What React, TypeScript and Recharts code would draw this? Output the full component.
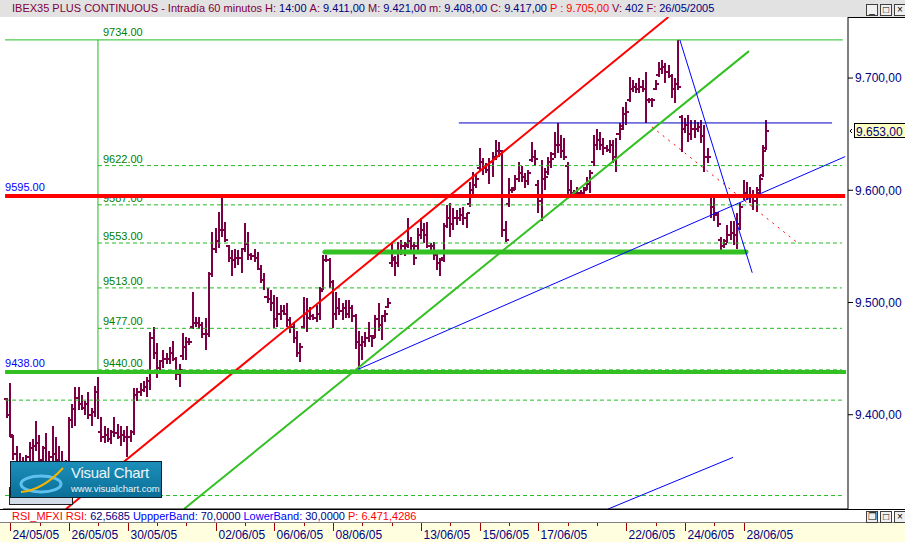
import React from "react";
import { Bar, ComposedChart, ReferenceLine, XAxis, YAxis } from "recharts";

const FONT = '"Liberation Sans", Arial, sans-serif';
const BAR_COLOR = "#7c0044";

// hourly bars, first one is the last bar of 23/05, then 9 bars per session
const opens = [
  9414,
  9400, 9380, 9365, 9356, 9352, 9355, 9362, 9370, 9372,
  9375, 9360, 9370, 9358, 9362, 9365, 9360, 9355, 9352,
  9356, 9395, 9405, 9415, 9410, 9406, 9410, 9400, 9402,
  9420, 9385, 9380, 9382, 9378, 9385, 9384, 9380, 9382,
  9380, 9380, 9385, 9418, 9420, 9422, 9425, 9430, 9468,
  9455, 9442, 9448, 9450, 9450, 9455, 9450, 9436, 9452,
  9460, 9465, 9478, 9482, 9482, 9480, 9472, 9472, 9525,
  9548, 9555, 9565, 9565, 9550, 9540, 9538, 9540, 9540,
  9548, 9552, 9542, 9541, 9540, 9530, 9520, 9505, 9503,
  9500, 9485, 9490, 9492, 9490, 9484, 9478, 9468, 9455,
  9478, 9490, 9486, 9488, 9486, 9490, 9512, 9538, 9538,
  9518, 9490, 9495, 9492, 9495, 9490, 9495, 9488, 9465,
  9462, 9465, 9468, 9470, 9470, 9485, 9480, 9488, 9496,
  9535, 9538, 9535, 9545, 9550, 9552, 9555, 9550, 9550,
  9560, 9565, 9560, 9550, 9550, 9542, 9535, 9540, 9568,
  9575, 9570, 9575, 9575, 9578, 9575, 9588, 9600, 9605,
  9620, 9625, 9620, 9618, 9625, 9630, 9635, 9635, 9565,
  9588, 9600, 9602, 9610, 9615, 9612, 9608, 9627, 9630,
  9605, 9590, 9610, 9616, 9625, 9632, 9640, 9640, 9635,
  9622, 9600, 9598, 9597, 9598, 9598, 9602, 9606, 9625,
  9640, 9645, 9640, 9638, 9636, 9640, 9630, 9650, 9657,
  9668, 9680, 9690, 9692, 9690, 9692, 9690, 9680, 9680,
  9690, 9703, 9708, 9710, 9705, 9702, 9690, 9695, 9665,
  9655, 9658, 9650, 9655, 9655, 9656, 9648, 9630, 9594,
  9585, 9578, 9556, 9550, 9555, 9560, 9562, 9560, 9570,
  9594, 9598, 9596, 9595, 9590, 9600, 9614, 9638,
];

const highs = [
  9415,
  9428, 9382, 9372, 9366, 9362, 9364, 9376, 9378, 9394,
  9382, 9372, 9384, 9368, 9390, 9380, 9372, 9368, 9360,
  9398, 9410, 9425, 9425, 9418, 9412, 9420, 9406, 9426,
  9434, 9398, 9390, 9388, 9386, 9398, 9392, 9390, 9386,
  9390, 9386, 9424, 9424, 9428, 9430, 9434, 9474, 9478,
  9464, 9449, 9458, 9455, 9460, 9466, 9451, 9445, 9473,
  9469, 9468, 9509, 9487, 9487, 9483, 9486, 9527, 9563,
  9566, 9581, 9594, 9572, 9551, 9547, 9548, 9547, 9549,
  9571, 9563, 9544, 9548, 9545, 9533, 9526, 9513, 9511,
  9507, 9505, 9498, 9498, 9500, 9487, 9483, 9475, 9464,
  9505, 9504, 9496, 9490, 9498, 9514, 9542, 9542, 9540,
  9520, 9509, 9504, 9500, 9502, 9502, 9498, 9490, 9475,
  9470, 9474, 9483, 9471, 9489, 9500, 9489, 9493, 9504,
  9553, 9541, 9554, 9556, 9554, 9575, 9558, 9554, 9566,
  9575, 9571, 9572, 9553, 9554, 9547, 9540, 9571, 9587,
  9589, 9584, 9582, 9584, 9585, 9580, 9607, 9616, 9614,
  9638, 9629, 9624, 9629, 9634, 9645, 9643, 9636, 9573,
  9611, 9603, 9614, 9625, 9622, 9615, 9618, 9643, 9636,
  9609, 9627, 9620, 9630, 9634, 9652, 9660, 9649, 9647,
  9625, 9609, 9600, 9603, 9600, 9603, 9612, 9618, 9649,
  9655, 9652, 9647, 9640, 9645, 9645, 9647, 9660, 9674,
  9679, 9701, 9698, 9696, 9700, 9698, 9705, 9682, 9682,
  9698, 9714, 9716, 9713, 9712, 9704, 9700, 9734, 9667,
  9664, 9667, 9663, 9663, 9661, 9663, 9658, 9638, 9596,
  9594, 9581, 9558, 9557, 9569, 9573, 9573, 9580, 9589,
  9609, 9607, 9603, 9600, 9603, 9614, 9640, 9663,
];

const lows = [
  9397,
  9380, 9360, 9352, 9345, 9348, 9345, 9350, 9352, 9368,
  9352, 9345, 9352, 9348, 9355, 9354, 9350, 9348, 9345,
  9352, 9388, 9390, 9404, 9404, 9400, 9396, 9390, 9398,
  9396, 9376, 9375, 9376, 9374, 9380, 9378, 9372, 9376,
  9362, 9376, 9382, 9412, 9417, 9420, 9416, 9422, 9450,
  9433, 9438, 9442, 9445, 9445, 9448, 9431, 9425, 9449,
  9449, 9462, 9476, 9478, 9476, 9468, 9458, 9469, 9523,
  9544, 9549, 9558, 9554, 9536, 9524, 9531, 9533, 9526,
  9545, 9538, 9538, 9536, 9529, 9517, 9511, 9500, 9492,
  9477, 9478, 9484, 9489, 9478, 9473, 9464, 9451, 9447,
  9476, 9474, 9484, 9484, 9483, 9484, 9511, 9536, 9513,
  9477, 9484, 9489, 9484, 9486, 9486, 9483, 9459, 9441,
  9449, 9460, 9465, 9460, 9468, 9475, 9467, 9483, 9495,
  9532, 9524, 9532, 9542, 9541, 9549, 9544, 9533, 9547,
  9557, 9553, 9549, 9545, 9538, 9529, 9524, 9536, 9566,
  9558, 9565, 9569, 9573, 9569, 9566, 9585, 9596, 9602,
  9618, 9614, 9615, 9606, 9612, 9627, 9630, 9558, 9554,
  9585, 9598, 9600, 9607, 9607, 9602, 9605, 9625, 9622,
  9580, 9573, 9600, 9614, 9620, 9629, 9633, 9629, 9627,
  9593, 9594, 9593, 9594, 9594, 9596, 9600, 9598, 9622,
  9636, 9636, 9631, 9634, 9633, 9624, 9616, 9645, 9654,
  9658, 9679, 9688, 9687, 9687, 9688, 9660, 9678, 9674,
  9689, 9701, 9704, 9696, 9700, 9682, 9678, 9689, 9634,
  9651, 9643, 9645, 9647, 9652, 9642, 9616, 9624, 9575,
  9573, 9567, 9544, 9549, 9553, 9556, 9551, 9548, 9565,
  9591, 9591, 9589, 9582, 9581, 9598, 9612, 9636,
];

const closes = [
  9400,
  9382, 9365, 9356, 9352, 9355, 9362, 9370, 9372, 9375,
  9360, 9370, 9358, 9362, 9365, 9360, 9355, 9352, 9356,
  9395, 9405, 9415, 9410, 9406, 9410, 9400, 9402, 9420,
  9385, 9380, 9382, 9378, 9385, 9384, 9380, 9382, 9380,
  9380, 9385, 9418, 9420, 9422, 9425, 9430, 9468, 9455,
  9442, 9448, 9450, 9450, 9455, 9450, 9436, 9440, 9460,
  9465, 9465, 9482, 9482, 9480, 9472, 9472, 9525, 9548,
  9555, 9565, 9565, 9556, 9540, 9538, 9540, 9540, 9548,
  9552, 9542, 9541, 9540, 9530, 9520, 9505, 9503, 9500,
  9485, 9490, 9492, 9490, 9484, 9478, 9468, 9455, 9460,
  9490, 9486, 9488, 9486, 9490, 9510, 9538, 9538, 9518,
  9490, 9495, 9492, 9495, 9490, 9495, 9488, 9465, 9462,
  9465, 9468, 9470, 9468, 9485, 9480, 9488, 9490, 9500,
  9540, 9535, 9545, 9550, 9550, 9555, 9550, 9540, 9560,
  9565, 9560, 9550, 9550, 9542, 9535, 9538, 9568, 9575,
  9570, 9575, 9575, 9578, 9575, 9580, 9600, 9605, 9610,
  9625, 9620, 9618, 9625, 9630, 9635, 9635, 9565, 9556,
  9600, 9600, 9610, 9615, 9612, 9608, 9615, 9630, 9628,
  9590, 9610, 9612, 9625, 9628, 9640, 9640, 9635, 9630,
  9600, 9598, 9597, 9598, 9598, 9600, 9606, 9615, 9640,
  9645, 9640, 9638, 9636, 9640, 9630, 9650, 9655, 9668,
  9670, 9690, 9692, 9690, 9692, 9690, 9680, 9680, 9680,
  9695, 9708, 9710, 9705, 9702, 9690, 9695, 9692, 9655,
  9658, 9650, 9655, 9655, 9656, 9648, 9630, 9630, 9585,
  9580, 9570, 9550, 9552, 9560, 9562, 9560, 9570, 9585,
  9598, 9596, 9595, 9590, 9598, 9610, 9635, 9653,
];

// first bar of every session and its axis label
const dayStarts = [1, 10, 19, 28, 37, 46, 55, 64, 73, 82, 91, 100, 109, 118, 127, 136, 145, 154, 163, 172, 181, 190, 199, 208, 217, 226];
const dayLabels = [
  "24/05/05", "", "26/05/05", "", "30/05/05", "", "", "02/06/05", "", "06/06/05", "", "08/06/05", "",
  "", "13/06/05", "", "15/06/05", "", "17/06/05", "", "", "22/06/05", "", "24/06/05", "", "28/06/05",
];

const priceTicks = [9400, 9500, 9600, 9700];

// fibonacci retracement drawn from the 9440 low to the 9734 high
const fiboLevels = [9622, 9587, 9553, 9513, 9477, 9440];
const fiboTop = 9734;
const fiboLow = 9440;
const fiboAnchor = 27.9;
const extraLevels = [9413, 9328];

const resistance = 9595;
const support = 9438;
const shelf = 9545;
const shelfSpan = [97.5, 226.7];
const highLine = 9660;
const highLineSpan = [138.6, 253.1];

// trend lines as [bar index, price] pairs
const redChannel = [[18.1, 9316], [202.9, 9754.4]];
const greenChannel = [[54.3, 9316], [227.6, 9724]];
const blueRising = [[107.7, 9440.5], [257.1, 9630]];
const blueFalling = [[206.4, 9734], [228.6, 9526.5]];
const blueLower = [[184.4, 9316], [222.7, 9362]];
const redDashed = [[197.8, 9656.6], [242.6, 9553]];

const data = highs.map((h, i) => ({
  i,
  open: opens[i],
  high: h,
  low: lows[i],
  close: closes[i],
  hl: [lows[i], h],
}));

const fmtPrice = (v: number) =>
  v.toFixed(2).replace(".", ",").replace(/^(\d)(\d{3})/, "$1.$2");

const OhlcBar = (props: any) => {
  const { x, y, width, height, payload } = props;
  if (x == null || y == null) return null;
  const cx = Math.round(x + width / 2);
  const top = Math.min(y, y + height);
  const h = Math.abs(height);
  const span = payload.high - payload.low || 1;
  const yOf = (v: number) => Math.round(top + ((payload.high - v) / span) * h);
  return (
    <g stroke={BAR_COLOR} strokeWidth={2} shapeRendering="crispEdges">
      <line x1={cx} x2={cx} y1={Math.round(top)} y2={Math.round(top + h)} />
      <line x1={cx - 3} x2={cx} y1={yOf(payload.open)} y2={yOf(payload.open)} />
      <line x1={cx} x2={cx + 3} y1={yOf(payload.close)} y2={yOf(payload.close)} />
    </g>
  );
};

const DateTick = (props: any) => {
  const { x, payload } = props;
  const k = dayStarts.indexOf(payload.value);
  const label = dayLabels[k];
  const px = Math.round(x) + 0.5;
  return (
    <g>
      <line x1={px} x2={px} y1={523} y2={label ? 531 : 526} stroke="#a00000" />
      {label ? (
        <text x={px + 2} y={539} fill="#000080" fontSize={12} fontFamily={FONT}>
          {label}
        </text>
      ) : null}
    </g>
  );
};

const levelLabel = (text: string, color: string, dx: number, dy: number) => (props: any) => {
  const vb = props.viewBox || {};
  return (
    <text x={vb.x + dx} y={vb.y + dy} fill={color} fontSize={11} fontFamily={FONT}>
      {text}
    </text>
  );
};

const lastPriceFlag = (props: any) => {
  const vb = props.viewBox || {};
  const xr = vb.x + vb.width;
  const yc = Math.round(vb.y);
  return (
    <g>
      <path d={`M${xr + 4},${yc - 2} L${xr + 2},${yc} L${xr + 4},${yc + 2}`} stroke="#000" fill="none" />
      <rect x={xr + 6.5} y={yc - 7.5} width={60} height={14} fill="#ffffc0" stroke="#000" />
      <text x={xr + 8} y={yc + 4.5} fill="#000080" fontSize={12} fontFamily={FONT}>
        {fmtPrice(closes[closes.length - 1])}
      </text>
    </g>
  );
};

const seg = (pts: number[][]) => [
  { x: pts[0][0], y: pts[0][1] },
  { x: pts[1][0], y: pts[1][1] },
];

const WinButtons = ({ top, glyphs }: { top: number; glyphs: string[] }) => (
  <div style={{ position: "absolute", top, left: 866, display: "flex", gap: 2 }}>
    {glyphs.map((g, k) => (
      <div
        key={k}
        style={{
          width: 10,
          height: 10,
          border: "1px solid #404040",
          background: "#f0f0f0",
          fontSize: 10,
          lineHeight: "9px",
          textAlign: "center",
          fontFamily: FONT,
          color: "#000",
        }}
      >
        {g}
      </div>
    ))}
  </div>
);

export default function App() {
  const title = [
    ["IBEX35 PLUS CONTINUOUS - Intradía 60 minutos", "#800040"],
    ["H:", "#800040"], ["14:00", "#000080"],
    ["A:", "#800040"], ["9.411,00", "#000080"],
    ["M:", "#800040"], ["9.421,00", "#000080"],
    ["m:", "#800040"], ["9.408,00", "#000080"],
    ["C:", "#800040"], ["9.417,00", "#000080"],
    ["P : 9.705,00", "#ff0000"],
    ["V:", "#800040"], ["402", "#000080"],
    ["F:", "#800040"], ["26/05/2005", "#000080"],
  ];
  const rsi = [
    ["RSI_MFXI", "#ff0000"], ["RSI:", "#ff0000"], ["62,5685", "#000080"],
    ["UppperBand:", "#0000ff"], ["70,0000", "#000080"],
    ["LowerBand:", "#0000ff"], ["30,0000", "#000080"],
    ["P: 6.471,4286", "#ff0000"],
  ];
  return (
    <div
      style={{
        position: "absolute",
        left: 0,
        top: 0,
        width: 905,
        height: 542,
        background: "#ffffff",
        overflow: "hidden",
        fontFamily: FONT,
      }}
    >
      <div style={{ position: "absolute", left: 0, top: 522, width: 905, height: 20, background: "#ffffe0", borderTop: "1px solid #808080" }} />
      <div style={{ position: "absolute", left: 0, top: 0 }}>
        <ComposedChart width={905} height={542} data={data} margin={{ top: 17, right: 0, bottom: 0, left: 3 }}>
          <XAxis
            dataKey="i"
            type="number"
            domain={[-1.23, 257.98]}
            allowDataOverflow
            ticks={dayStarts}
            interval={0}
            height={33}
            tickLine={false}
            axisLine={{ stroke: "#000" }}
            tick={<DateTick />}
          />
          <YAxis
            orientation="right"
            width={57}
            type="number"
            domain={[9316, 9754.4]}
            allowDataOverflow
            ticks={priceTicks}
            interval={0}
            tickSize={5}
            tickMargin={2}
            tickLine={{ stroke: "#000" }}
            axisLine={{ stroke: "#000" }}
            tickFormatter={fmtPrice}
            tick={{ fill: "#000080", fontSize: 12, fontFamily: FONT }}
          />
          <Bar dataKey="hl" barSize={3} shape={<OhlcBar />} isAnimationActive={false} />

          {fiboLevels.map((lv) => (
            <ReferenceLine
              key={lv}
              segment={[{ x: fiboAnchor, y: lv }, { x: 256.1, y: lv }]}
              stroke="#22bb22"
              strokeDasharray="4 3"
              ifOverflow="visible"
              label={levelLabel(lv.toFixed(2), "#008000", 5, -3)}
            />
          ))}
          {extraLevels.map((lv) => (
            <ReferenceLine
              key={lv}
              segment={[{ x: -0.6, y: lv }, { x: 256.1, y: lv }]}
              stroke="#22bb22"
              strokeDasharray="4 3"
              ifOverflow="visible"
            />
          ))}
          <ReferenceLine
            segment={[{ x: fiboAnchor, y: fiboTop }, { x: fiboAnchor, y: fiboLow }]}
            stroke="#22bb22"
            ifOverflow="visible"
            label={levelLabel(fiboTop.toFixed(2), "#008000", 5, -4)}
          />
          <ReferenceLine
            segment={[{ x: -0.6, y: fiboTop }, { x: 256.4, y: fiboTop }]}
            stroke="#22bb22"
            ifOverflow="visible"
          />
          <ReferenceLine
            segment={[{ x: highLineSpan[0], y: highLine }, { x: highLineSpan[1], y: highLine }]}
            stroke="#0000c0"
            ifOverflow="visible"
          />
          <ReferenceLine
            segment={[{ x: shelfSpan[0], y: shelf }, { x: shelfSpan[1], y: shelf }]}
            stroke="#33c022"
            strokeWidth={5}
            strokeLinecap="round"
            ifOverflow="visible"
          />
          <ReferenceLine segment={seg(redChannel)} stroke="#ff0000" strokeWidth={2} ifOverflow="visible" />
          <ReferenceLine segment={seg(greenChannel)} stroke="#33c022" strokeWidth={2} ifOverflow="visible" />
          <ReferenceLine segment={seg(blueRising)} stroke="#0000ff" ifOverflow="visible" />
          <ReferenceLine segment={seg(blueFalling)} stroke="#0000ff" ifOverflow="visible" />
          <ReferenceLine segment={seg(blueLower)} stroke="#0000ff" ifOverflow="visible" />
          <ReferenceLine segment={seg(redDashed)} stroke="#ff0000" strokeDasharray="2 5" ifOverflow="visible" />
          <ReferenceLine
            segment={[{ x: -0.6, y: resistance }, { x: 257.1, y: resistance }]}
            stroke="#ff0000"
            strokeWidth={4}
            ifOverflow="visible"
            label={levelLabel(resistance.toFixed(2), "#0000ff", 0, -5)}
          />
          <ReferenceLine
            segment={[{ x: -0.6, y: support }, { x: 257.4, y: support }]}
            stroke="#33c022"
            strokeWidth={4}
            ifOverflow="visible"
            label={levelLabel(support.toFixed(2), "#0000ff", 0, -5)}
          />
          <ReferenceLine y={closes[closes.length - 1]} stroke="none" ifOverflow="visible" label={lastPriceFlag} />
        </ComposedChart>
      </div>

      {/* window title bar */}
      <div
        style={{
          position: "absolute",
          left: 0,
          top: 0,
          width: 905,
          height: 17,
          background: "#e2e2e2",
          fontSize: 11,
          lineHeight: "17px",
          whiteSpace: "nowrap",
          paddingLeft: 12,
          boxSizing: "border-box",
        }}
      >
        {title.map(([t, c], k) => (
          <span key={k} style={{ color: c, marginRight: 3 }}>
            {t}
          </span>
        ))}
      </div>
      <WinButtons top={4} glyphs={["_", "□", "×"]} />
      <div style={{ position: "absolute", left: 848, top: 17, width: 57, height: 1, background: "#000" }} />

      {/* indicator header */}
      <div style={{ position: "absolute", left: 0, top: 509, width: 905, height: 1, background: "#000" }} />
      <div
        style={{
          position: "absolute",
          left: 0,
          top: 510,
          width: 905,
          height: 12,
          background: "#ffffff",
          fontSize: 11,
          lineHeight: "12px",
          whiteSpace: "nowrap",
          paddingLeft: 12,
          boxSizing: "border-box",
        }}
      >
        {rsi.map(([t, c], k) => (
          <span key={k} style={{ color: c, marginRight: 3 }}>
            {t}
          </span>
        ))}
      </div>
      <WinButtons top={511} glyphs={["❐", "□", "×"]} />

      {/* logo */}
      <div style={{ position: "absolute", left: 9, top: 487, width: 62, height: 16, background: "#d3ddea", border: "1px solid #202020" }} />
      <div
        style={{
          position: "absolute",
          left: 10,
          top: 461,
          width: 150,
          height: 35,
          background: "linear-gradient(#1b8fba, #0b6f98)",
          border: "1px solid #10202c",
        }}
      >
        <svg width={60} height={35} style={{ position: "absolute", left: 2, top: 0 }}>
          <ellipse cx={28} cy={22} rx={20} ry={8} fill="none" stroke="#5ec0ef" strokeWidth={3} />
          <path d="M8,30 Q30,28 50,6" fill="none" stroke="#f4b400" strokeWidth={2} />
        </svg>
        <div style={{ position: "absolute", left: 60, top: 2, color: "#eef5f8", fontSize: 15, whiteSpace: "nowrap", letterSpacing: -0.3 }}>
          Visual Chart
        </div>
        <div style={{ position: "absolute", left: 60, top: 21, color: "#eef5f8", fontSize: 9.5, whiteSpace: "nowrap" }}>
          www.visualchart.com
        </div>
      </div>
    </div>
  );
}
